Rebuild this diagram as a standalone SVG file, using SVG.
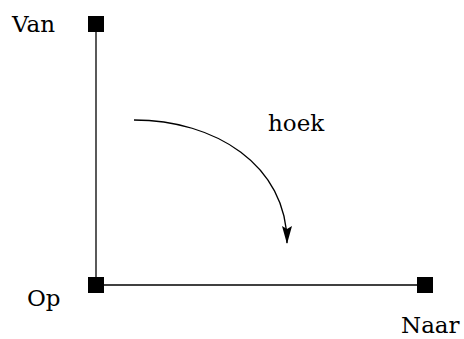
<svg xmlns="http://www.w3.org/2000/svg" width="464" height="339" viewBox="0 0 464 339">
<style>
.ln{stroke:#000;stroke-width:1.3;fill:none}
.pt{fill:#000}
.lbl{font-family:'DejaVu Serif',serif;font-size:23px;fill:#000}
</style>
<defs>
<marker id="ah" markerWidth="18" markerHeight="10" refX="17" refY="5" orient="auto" markerUnits="userSpaceOnUse" viewBox="0 0 18 10">
<path d="M0,0 L18,5 L0,10 L3,5 Z" fill="#000"/>
</marker>
</defs>
<rect width="464" height="339" fill="#fff"/>
<g id="connectors">
<line class="ln" x1="96" y1="24" x2="96" y2="285"/>
<line class="ln" x1="96" y1="285" x2="425" y2="285"/>
<path class="ln" d="M134,120 C215,120 287,165 287,243" marker-end="url(#ah)"/>
</g>
<g id="van"><rect class="pt" x="88" y="16" width="16" height="16"/><text class="lbl" x="12" y="32">Van</text></g>
<g id="op"><rect class="pt" x="88" y="277" width="16" height="16"/><text class="lbl" x="27" y="306">Op</text></g>
<g id="naar"><rect class="pt" x="417" y="277" width="16" height="16"/><text class="lbl" x="401" y="333">Naar</text></g>
<g id="hoek"><text class="lbl" x="268" y="131">hoek</text></g>
</svg>
